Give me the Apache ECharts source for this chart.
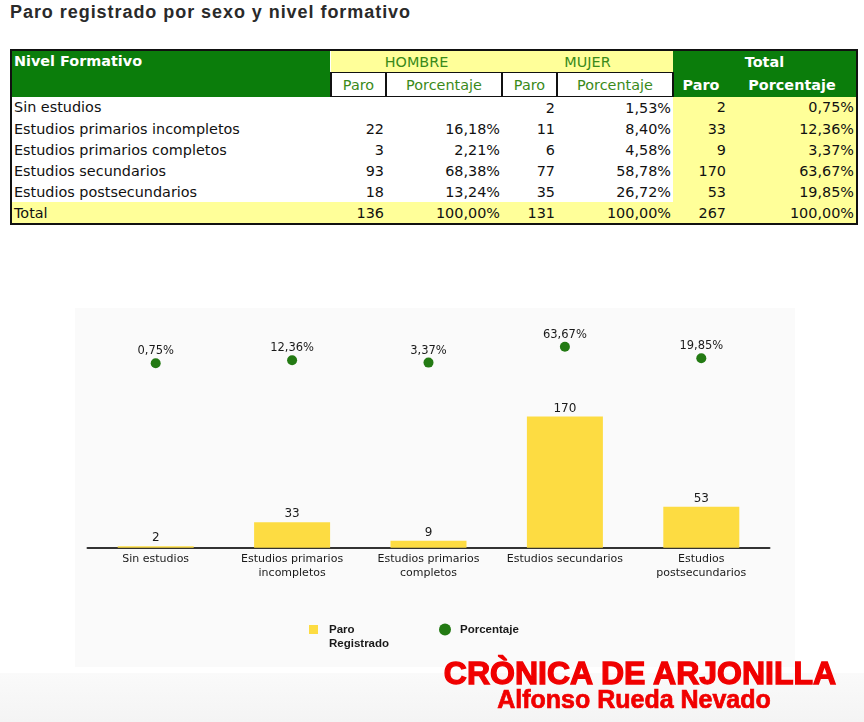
<!DOCTYPE html>
<html>
<head>
<meta charset="utf-8">
<script src="https://cdn.jsdelivr.net/npm/echarts@6/dist/echarts.min.js"></script>
<style>
  html, body { margin: 0; padding: 0; background: #ffffff; }
  #page { position: relative; width: 864px; height: 722px; overflow: hidden; background: #fff; }
  #title { position: absolute; left: 10px; top: 2px; font-family: "Liberation Sans", Arial, sans-serif;
           font-weight: bold; font-size: 18px; letter-spacing: 0.95px; color: #2a2a2a; white-space: nowrap; }
  table.t { position: absolute; left: 10px; top: 49px; border-collapse: collapse; border: 2px solid #111;
            font-family: "DejaVu Sans", Verdana, sans-serif; font-size: 14.4px; color: #111; table-layout: fixed; }
  table.t td { padding: 0 2px; height: 21px; line-height: 20px; white-space: nowrap; overflow: hidden; }
  .g { background: #0b7d0b; color: #fff; font-weight: bold; }
  .y { background: #ffff99; }
  .hg { color: #3a8a1a; text-align: center; }
  .box { background: #fff; color: #3a8a1a; text-align: center; border-top: 1px solid #111; border-left: 2px solid #111; border-right: 2px solid #111; border-bottom: 1px solid #111; }
  .r { text-align: right; }
  #panel { position: absolute; left: 75px; top: 308px; width: 720px; height: 359px; background: #fafafa; }
  #band { position: absolute; left: 0; top: 673px; width: 864px; height: 49px; background: linear-gradient(#fafafa, #f4f4f4); }
  #chart { position: absolute; left: 0; top: 0; width: 864px; height: 722px; }
  #wm1 { position: absolute; left: 440px; top: 655px; width: 400px; text-align: center; font-family: "Liberation Sans", Arial, sans-serif;
         font-weight: bold; font-size: 32px; color: #f00000; -webkit-text-stroke: 1.3px #f00000; white-space: nowrap; }
  #wm2 { position: absolute; left: 440px; top: 685px; width: 388px; text-align: center; font-family: "Liberation Sans", Arial, sans-serif;
         font-weight: bold; font-size: 25px; color: #f00000; -webkit-text-stroke: 0.7px #f00000; white-space: nowrap; }
</style>
</head>
<body>
<div id="page">
  <div id="title"></div>
  <table class="t" id="tbl"></table>
  <div id="panel"></div>
  <div id="band"></div>
  <div id="chart"></div>
  <div id="wm1">CRÒNICA DE ARJONILLA</div>
  <div id="wm2">Alfonso Rueda Nevado</div>
</div>
<script>
// ---- data ----
const titleText = 'Paro registrado por sexo y nivel formativo';
const categories = ['Sin estudios', 'Estudios primarios incompletos', 'Estudios primarios completos', 'Estudios secundarios', 'Estudios postsecundarios'];
const axisLabels = ['Sin estudios', 'Estudios primarios\nincompletos', 'Estudios primarios\ncompletos', 'Estudios secundarios', 'Estudios\npostsecundarios'];
const hombreParo = ['', '22', '3', '93', '18'];
const hombrePct = ['', '16,18%', '2,21%', '68,38%', '13,24%'];
const mujerParo = ['2', '11', '6', '77', '35'];
const mujerPct = ['1,53%', '8,40%', '4,58%', '58,78%', '26,72%'];
const totalParo = [2, 33, 9, 170, 53];
const totalPct = [0.75, 12.36, 3.37, 63.67, 19.85];
const totals = { hombreParo: '136', hombrePct: '100,00%', mujerParo: '131', mujerPct: '100,00%', totalParo: '267', totalPct: '100,00%' };
const seriesBarName = 'Paro\nRegistrado';
const seriesPctName = 'Porcentaje';

const fmtPct = v => v.toFixed(2).replace('.', ',') + '%';

// ---- title & table ----
document.getElementById('title').textContent = titleText;
const colW = [320, 55, 116, 55, 116, 55, 129];
let html = '<colgroup>' + colW.map(w => '<col style="width:' + w + 'px">').join('') + '</colgroup>';
html += '<tr><td class="g" rowspan="2" style="vertical-align:top;">Nivel Formativo</td>' +
        '<td class="y hg" colspan="2" style="height:21px">HOMBRE</td>' +
        '<td class="y hg" colspan="2">MUJER</td>' +
        '<td class="g" colspan="2" style="text-align:center">Total</td></tr>';
html += '<tr><td class="box" style="height:23px">Paro</td><td class="box">Porcentaje</td>' +
        '<td class="box">Paro</td><td class="box">Porcentaje</td>' +
        '<td class="g" style="text-align:center">Paro</td><td class="g" style="text-align:center">Porcentaje</td></tr>';
for (let i = 0; i < categories.length; i++) {
  html += '<tr><td>' + categories[i] + '</td>' +
          '<td class="r">' + hombreParo[i] + '</td><td class="r">' + hombrePct[i] + '</td>' +
          '<td class="r">' + mujerParo[i] + '</td><td class="r">' + mujerPct[i] + '</td>' +
          '<td class="r y">' + totalParo[i] + '</td><td class="r y">' + fmtPct(totalPct[i]) + '</td></tr>';
}
html += '<tr class="y"><td>Total</td>' +
        '<td class="r">' + totals.hombreParo + '</td><td class="r">' + totals.hombrePct + '</td>' +
        '<td class="r">' + totals.mujerParo + '</td><td class="r">' + totals.mujerPct + '</td>' +
        '<td class="r">' + totals.totalParo + '</td><td class="r">' + totals.totalPct + '</td></tr>';
document.getElementById('tbl').innerHTML = html;

// ---- chart ----
const chart = echarts.init(document.getElementById('chart'), null, { renderer: 'canvas' });
const font = '"DejaVu Sans", Verdana, sans-serif';
const legendFont = '"Liberation Sans", Arial, sans-serif';
chart.setOption({
  animation: false,
  backgroundColor: 'transparent',
  grid: [
    { left: 87.5, right: 94.5, top: 393.3, height: 154.4 },
    { left: 87.5, right: 94.5, top: 339.7, height: 23.8 }
  ],
  xAxis: [
    { type: 'category', gridIndex: 0, data: axisLabels,
      axisLine: { lineStyle: { color: '#333', width: 2 } },
      axisTick: { show: false },
      axisLabel: { color: '#1a1a1a', fontFamily: font, fontSize: 11, lineHeight: 14, margin: 4, interval: 0 } },
    { type: 'category', gridIndex: 1, data: axisLabels, show: false }
  ],
  yAxis: [
    { type: 'value', gridIndex: 0, min: 0, max: 200, show: false, splitLine: { show: false } },
    { type: 'value', gridIndex: 1, min: 0, max: 90, show: false, splitLine: { show: false } }
  ],
  legend: [
    { data: [{ name: seriesBarName, icon: 'rect' }], left: 309, top: 608.5, padding: 0,
      itemWidth: 9, itemHeight: 9,
      formatter: name => '\n' + name,
      textStyle: { color: '#1a1a1a', fontFamily: legendFont, fontWeight: 'bold', fontSize: 11.5, lineHeight: 14, padding: [0, 0, 0, 6] } },
    { data: [{ name: seriesPctName, icon: 'circle' }], left: 439, top: 622.5, padding: 0,
      itemWidth: 12, itemHeight: 12,
      textStyle: { color: '#1a1a1a', fontFamily: legendFont, fontWeight: 'bold', fontSize: 11.5, lineHeight: 14, padding: [0, 0, 0, 4] } }
  ],
  series: [
    { name: seriesBarName, type: 'bar', xAxisIndex: 0, yAxisIndex: 0, data: totalParo, barWidth: 76,
      itemStyle: { color: '#fddc42' },
      label: { show: true, position: 'top', distance: 2, color: '#1a1a1a', fontFamily: font, fontSize: 12 } },
    { name: seriesPctName, type: 'scatter', xAxisIndex: 1, yAxisIndex: 1, data: totalPct, symbolSize: 10,
      itemStyle: { color: '#237a13', opacity: 1 },
      label: { show: true, position: 'top', distance: 1, color: '#1a1a1a', fontFamily: font, fontSize: 11.5,
               formatter: p => fmtPct(p.value) } }
  ]
});
</script>
</body>
</html>
